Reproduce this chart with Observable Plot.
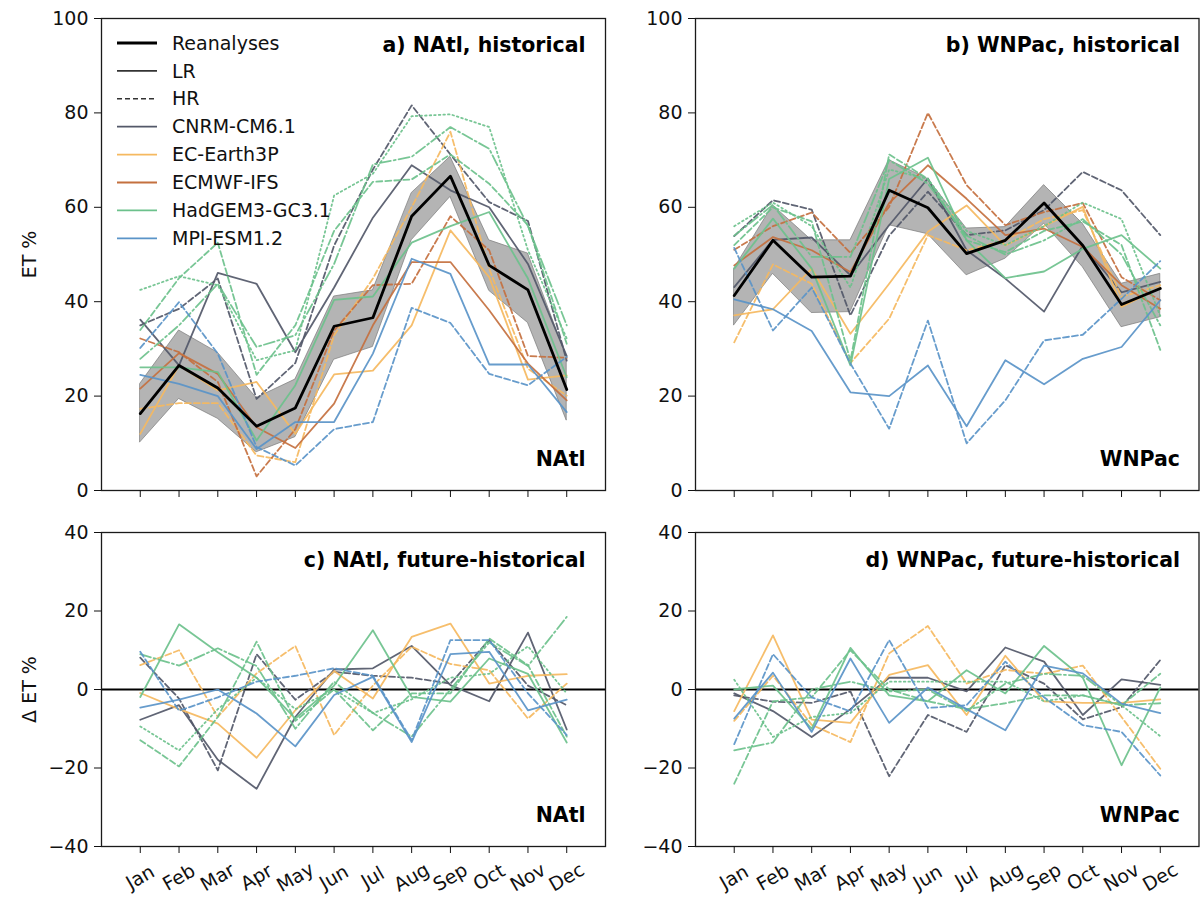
<!DOCTYPE html>
<html><head><meta charset="utf-8">
<script src="https://cdn.jsdelivr.net/npm/d3@7"></script>
<script src="https://cdn.jsdelivr.net/npm/@observablehq/plot@0.6"></script>
<style>
body{margin:0;background:#fff;}
#wrap{position:relative;width:1203px;height:901px;font-family:"DejaVu Sans",sans-serif;background:#fff;}
#wrap > svg{position:absolute;}
</style></head><body><div id="wrap"></div>
<script>
const months = ["Jan","Feb","Mar","Apr","May","Jun","Jul","Aug","Sep","Oct","Nov","Dec"];
const models = ["CNRM-CM6.1","EC-Earth3P","ECMWF-IFS","HadGEM3-GC3.1","MPI-ESM1.2"];
const modelColors = ["#535869","#f5b960","#c4703f","#6cc18c","#5a94c8"];

// a) NAtl, historical
const aREA    = [16.3, 26.5, 21.7, 13.6, 17.5, 34.8, 36.6, 58.1, 66.6, 47.7, 42.5, 21.4];
const aREA_lo = [10.2, 19.4, 15.2,  8.1, 11.3, 27.7, 30.4, 53.0, 62.2, 42.3, 35.5, 14.8];
const aREA_hi = [22.6, 33.9, 29.2, 19.6, 23.5, 41.1, 42.4, 63.0, 70.7, 53.0, 50.2, 28.3];
const aCNRM_LR  = [36.2, 26.5, 46.1, 43.8, 29.3, 43.0, 57.8, 68.9, 63.6, 60.0, 48.0, 28.5];
const aCNRM_HR  = [35.0, 38.5, 44.9, 19.4, 27.0, 51.9, 68.0, 81.6, 71.2, 61.1, 57.1, 27.5];
const aEC_LR    = [12.0, 26.5, 21.2, 23.0, 12.0, 24.6, 25.4, 35.0, 55.1, 45.2, 23.5, 24.4];
const aEC_HR    = [17.3, 18.5, 18.5,  7.4,  6.0, 32.9, 44.9, 60.0, 76.0, 47.0, 25.8, 20.1];
const aECMWF_LR = [21.6, 29.1, 24.7, 13.4,  9.0, 18.4, 35.0, 48.4, 48.4, 38.2, 26.9, 19.1];
const aECMWF_HR = [32.2, 29.3, 23.0,  3.0, 13.0, 33.9, 43.5, 43.8, 58.1, 50.9, 28.5, 28.1];
const aHAD_LL   = [26.1, 26.1, 25.1, 10.6, 22.3, 40.4, 41.1, 52.5, 56.0, 59.0, 44.9, 24.0];
const aHAD_MM   = [34.0, 45.0, 52.5, 24.5, 35.0, 55.0, 65.4, 65.9, 71.2, 65.0, 56.2, 31.1];
const aHAD_HM   = [27.9, 35.0, 43.8, 30.4, 32.9, 48.0, 69.1, 70.7, 77.0, 72.4, 56.0, 35.0];
const aHAD_HH   = [42.5, 45.4, 43.5, 27.6, 29.7, 62.5, 67.1, 79.3, 79.7, 77.0, 50.9, 32.2];
const aMPI_LR   = [24.5, 22.6, 20.0,  8.8, 14.5, 14.5, 29.0, 49.1, 45.9, 26.7, 26.7, 16.6];
const aMPI_HR   = [30.2, 39.9, 29.0,  9.2,  5.3, 13.0, 14.5, 38.7, 35.5, 24.7, 22.3, 28.3];

// b) WNPac, historical
const bREA    = [41.3, 53.0, 45.2, 45.4, 63.6, 59.9, 50.2, 53.0, 60.9, 51.9, 39.4, 42.8];
const bREA_lo = [35.0, 45.9, 37.6, 37.8, 56.2, 54.3, 45.6, 49.1, 56.5, 47.3, 34.6, 36.7];
const bREA_hi = [47.0, 60.4, 53.0, 53.0, 70.0, 66.0, 55.5, 55.8, 64.7, 56.5, 43.8, 45.9];
const bCNRM_LR  = [43.1, 53.1, 53.6, 45.6, 56.2, 66.1, 50.9, 44.9, 37.9, 51.9, 42.0, 44.2];
const bCNRM_HR  = [53.9, 61.5, 59.5, 37.1, 54.0, 63.3, 54.1, 55.1, 59.4, 67.5, 63.6, 54.1];
const bEC_LR    = [37.1, 38.4, 47.0, 33.2, 43.8, 54.8, 60.4, 51.9, 56.0, 60.1, 38.9, 43.0];
const bEC_HR    = [31.4, 47.9, 43.8, 27.0, 36.4, 54.1, 50.9, 53.0, 57.5, 59.4, 41.0, 43.5];
const bECMWF_LR = [47.7, 53.7, 50.9, 46.3, 60.9, 68.9, 61.8, 54.1, 55.5, 51.6, 43.5, 38.5];
const bECMWF_HR = [51.0, 56.0, 58.9, 50.3, 60.1, 80.0, 64.7, 56.2, 59.0, 60.9, 45.2, 40.3];
const bHAD_LL   = [47.0, 57.6, 47.0, 26.5, 66.0, 70.5, 53.0, 45.0, 46.4, 51.2, 54.1, 47.0];
const bHAD_MM   = [52.0, 60.0, 57.0, 27.5, 71.2, 66.0, 53.0, 50.5, 55.0, 57.0, 52.0, 29.8];
const bHAD_HM   = [54.0, 60.5, 49.5, 49.5, 70.0, 65.0, 54.0, 50.0, 53.0, 57.5, 50.0, 35.0];
const bHAD_HH   = [56.0, 61.0, 56.0, 43.0, 68.0, 66.0, 55.0, 52.0, 56.0, 61.0, 57.5, 37.0];
const bMPI_LR   = [40.5, 38.4, 33.8, 20.8, 20.0, 26.5, 13.6, 27.6, 22.5, 27.9, 30.4, 40.3];
const bMPI_HR   = [51.4, 33.9, 43.0, 26.9, 13.1, 36.0, 10.0, 19.1, 31.8, 33.0, 40.6, 48.6];

// c) NAtl, future-historical
const cCNRM_LR = [-7.7, -4.0, -17.9, -25.3, -7.0, 5.1, 5.4, 11.1, 1.1, -3.0, 14.5, -10.2];
const cCNRM_HR = [8.1, -2.3, -20.6, 9.0, -2.6, 4.5, 3.5, 3.0, 1.5, 12.6, 1.0, -4.0];
const cEC_LR   = [-0.9, -5.0, -8.7, -17.4, -5.3, 4.7, -2.3, 13.4, 16.8, 1.5, 3.5, 3.9];
const cEC_HR   = [6.2, 10.0, -7.0, 4.1, 11.1, -11.6, 1.0, 10.9, 6.5, 4.9, -7.4, 1.5];
const cHAD_LL  = [-1.9, 16.6, 9.5, 3.0, -7.4, 1.0, 15.1, -1.9, -3.1, 7.9, 4.0, -13.5];
const cHAD_MM  = [-12.9, -19.6, -7.0, 12.2, -8.0, 0.0, -10.4, -1.0, -1.0, 13.0, 6.2, -12.0];
const cHAD_HM  = [9.0, 6.1, 10.5, 6.0, -10.0, 2.0, -6.0, -12.0, 0.0, 12.0, 6.0, 18.5];
const cHAD_HH  = [-9.4, -15.5, -5.0, 3.0, -5.0, 0.0, -6.0, -2.5, 3.0, 4.0, 11.0, -1.0];
const cMPI_LR  = [-4.6, -2.6, 0.0, -6.1, -14.5, -1.4, 3.2, -13.4, 9.0, 9.6, -5.3, -2.6];
const cMPI_HR  = [9.6, -5.4, -2.0, 2.0, 3.5, 5.4, 3.5, -12.9, 12.6, 12.6, -1.0, -11.6];

// d) WNPac, future-historical
const dCNRM_LR = [-1.0, -5.5, -12.1, -5.0, 3.0, 3.0, -0.5, 10.7, 7.1, -6.5, 2.6, 1.2];
const dCNRM_HR = [-1.5, -3.1, -3.4, -0.5, -22.1, -6.5, -10.8, 6.2, 1.5, -7.6, -4.5, 7.5];
const dEC_LR   = [-5.5, 13.8, -7.7, -8.5, 3.7, 6.2, -6.5, 8.6, -3.0, -3.4, -3.4, -2.5];
const dEC_HR   = [-8.0, 3.5, -9.0, -13.4, 9.2, 16.2, 1.5, 5.0, 4.0, 6.1, -7.0, -20.2];
const dHAD_LL  = [0.0, 1.0, -10.0, 10.6, -1.5, -3.0, 4.9, -1.0, 11.1, 3.0, -19.3, 0.5];
const dHAD_MM  = [-24.0, -3.0, -2.0, 10.0, 0.0, -3.0, -5.0, -3.5, -1.5, -1.5, -4.0, 4.0];
const dHAD_HM  = [-15.5, -13.5, 0.0, 2.0, -0.5, 0.0, -5.5, 1.5, 4.0, 3.5, -4.0, -3.5];
const dHAD_HH  = [2.5, -12.1, -7.0, -6.0, 2.0, 2.0, 2.0, 2.0, -3.0, -1.5, -4.0, -11.9];
const dMPI_LR  = [-7.4, 4.3, -10.8, 7.9, -8.5, 0.5, -5.0, -10.4, 6.1, 4.1, -3.6, -6.0];
const dMPI_HR  = [-13.9, 9.0, -2.0, -5.6, 12.6, -4.7, -4.0, 7.1, -2.0, -9.1, -10.8, -21.9];

const dashes = {LR: null, HR: "6,3", LL: null, MM: "6,3", HM: "11,3,2,3", HH: "1.6,3"};
const color = m => modelColors[models.indexOf(m)];
const toRows = (vals, model, res) => vals.map((v, i) => ({m: i + 1, v, model, res}));

const seriesA = [
  ["CNRM-CM6.1","LR",aCNRM_LR],["CNRM-CM6.1","HR",aCNRM_HR],
  ["EC-Earth3P","LR",aEC_LR],["EC-Earth3P","HR",aEC_HR],
  ["ECMWF-IFS","LR",aECMWF_LR],["ECMWF-IFS","HR",aECMWF_HR],
  ["HadGEM3-GC3.1","LL",aHAD_LL],["HadGEM3-GC3.1","MM",aHAD_MM],["HadGEM3-GC3.1","HM",aHAD_HM],["HadGEM3-GC3.1","HH",aHAD_HH],
  ["MPI-ESM1.2","LR",aMPI_LR],["MPI-ESM1.2","HR",aMPI_HR]];
const seriesB = [
  ["CNRM-CM6.1","LR",bCNRM_LR],["CNRM-CM6.1","HR",bCNRM_HR],
  ["EC-Earth3P","LR",bEC_LR],["EC-Earth3P","HR",bEC_HR],
  ["ECMWF-IFS","LR",bECMWF_LR],["ECMWF-IFS","HR",bECMWF_HR],
  ["HadGEM3-GC3.1","LL",bHAD_LL],["HadGEM3-GC3.1","MM",bHAD_MM],["HadGEM3-GC3.1","HM",bHAD_HM],["HadGEM3-GC3.1","HH",bHAD_HH],
  ["MPI-ESM1.2","LR",bMPI_LR],["MPI-ESM1.2","HR",bMPI_HR]];
const seriesC = [
  ["CNRM-CM6.1","LR",cCNRM_LR],["CNRM-CM6.1","HR",cCNRM_HR],
  ["EC-Earth3P","LR",cEC_LR],["EC-Earth3P","HR",cEC_HR],
  ["HadGEM3-GC3.1","LL",cHAD_LL],["HadGEM3-GC3.1","MM",cHAD_MM],["HadGEM3-GC3.1","HM",cHAD_HM],["HadGEM3-GC3.1","HH",cHAD_HH],
  ["MPI-ESM1.2","LR",cMPI_LR],["MPI-ESM1.2","HR",cMPI_HR]];
const seriesD = [
  ["CNRM-CM6.1","LR",dCNRM_LR],["CNRM-CM6.1","HR",dCNRM_HR],
  ["EC-Earth3P","LR",dEC_LR],["EC-Earth3P","HR",dEC_HR],
  ["HadGEM3-GC3.1","LL",dHAD_LL],["HadGEM3-GC3.1","MM",dHAD_MM],["HadGEM3-GC3.1","HM",dHAD_HM],["HadGEM3-GC3.1","HH",dHAD_HH],
  ["MPI-ESM1.2","LR",dMPI_LR],["MPI-ESM1.2","HR",dMPI_HR]];

const fmt = d => d < 0 ? "\u2212" + (-d) : String(d);
const FONT = "DejaVu Sans, sans-serif";

function panel(o) {
  const marks = [];
  if (o.band) {
    const bandRows = o.band[0].map((lo, i) => ({m: i + 1, lo, hi: o.band[1][i]}));
    marks.push(Plot.areaY(bandRows, {x: "m", y1: "lo", y2: "hi", fill: "#8c8c8c", fillOpacity: 0.65, stroke: "#7a7a7a", strokeOpacity: 0.7, strokeWidth: 1}));
  }
  if (o.zero) marks.push(Plot.ruleY([0], {stroke: "#000", strokeWidth: 1.8}));
  for (const [model, res, vals] of o.series) {
    marks.push(Plot.line(toRows(vals, model, res), {x: "m", y: "v", stroke: color(model), strokeWidth: 1.8, strokeOpacity: 0.92, strokeDasharray: dashes[res]}));
  }
  if (o.rea) marks.push(Plot.line(toRows(o.rea, "Reanalyses", ""), {x: "m", y: "v", stroke: "#000", strokeWidth: 2.8}));
  marks.push(Plot.frame({stroke: "#1a1a1a", strokeWidth: 1.3}));
  marks.push(Plot.axisY({ticks: o.yTicks, tickSize: 7, tickPadding: 6, tickFormat: fmt, label: null, fontSize: 19}));
  marks.push(Plot.axisX({ticks: d3.range(1, 13), tickSize: 7, tickFormat: () => "", label: null}));
  if (o.showMonths) {
    marks.push(Plot.text(months, {x: (d, i) => i + 1, frameAnchor: "bottom", dy: 31, rotate: -30, textAnchor: "middle", lineAnchor: "middle", fontSize: 19, fill: "#111"}));
  }
  marks.push(Plot.text([o.title], {frameAnchor: "top-right", dx: o.tdx, dy: o.tdy, textAnchor: "end", lineAnchor: "middle", fontWeight: "bold", fontSize: 20.5, fill: "#000"}));
  marks.push(Plot.text([o.region], {frameAnchor: "bottom-right", dx: o.tdx, dy: o.rdy, textAnchor: "end", lineAnchor: "middle", fontWeight: "bold", fontSize: 20.5, fill: "#000"}));
  if (o.ylabel) marks.push(Plot.text([o.ylabel], {frameAnchor: "left", dx: -72, rotate: -90, textAnchor: "middle", lineAnchor: "middle", fontSize: 19, fill: "#111"}));
  const svg = Plot.plot({
    width: o.width, height: o.height,
    marginLeft: o.ml, marginRight: o.mr, marginTop: o.mt, marginBottom: o.mb,
    x: {type: "linear", domain: [0, 13], axis: null},
    y: {type: "linear", domain: o.yDomain, axis: null},
    style: {fontFamily: FONT, fontSize: "19px", color: "#111", background: "transparent", overflow: "visible"},
    marks
  });
  svg.style.left = o.left + "px";
  svg.style.top = o.top + "px";
  return svg;
}

const wrap = document.getElementById("wrap");
const topTicks = [0, 20, 40, 60, 80, 100];
const botTicks = [-40, -20, 0, 20, 40];

wrap.appendChild(panel({left: 0, top: 0, width: 640, height: 500, ml: 101, mr: 35, mt: 18, mb: 10,
  yDomain: [0, 100], yTicks: topTicks, series: seriesA, band: [aREA_lo, aREA_hi], rea: aREA,
  title: "a) NAtl, historical", region: "NAtl", tdx: -20, tdy: 27, rdy: -31, ylabel: "ET %"}));
wrap.appendChild(panel({left: 640, top: 0, width: 563, height: 500, ml: 55, mr: 4.5, mt: 18, mb: 10,
  yDomain: [0, 100], yTicks: topTicks, series: seriesB, band: [bREA_lo, bREA_hi], rea: bREA,
  title: "b) WNPac, historical", region: "WNPac", tdx: -19, tdy: 27, rdy: -31}));
wrap.appendChild(panel({left: 0, top: 500, width: 640, height: 401, ml: 101, mr: 35, mt: 32, mb: 55,
  yDomain: [-40, 40], yTicks: botTicks, series: seriesC, zero: true, showMonths: true,
  title: "c) NAtl, future-historical", region: "NAtl", tdx: -20, tdy: 28, rdy: -31, ylabel: "\u0394 ET %"}));
wrap.appendChild(panel({left: 640, top: 500, width: 563, height: 401, ml: 55, mr: 4.5, mt: 32, mb: 55,
  yDomain: [-40, 40], yTicks: botTicks, series: seriesD, zero: true, showMonths: true,
  title: "d) WNPac, future-historical", region: "WNPac", tdx: -19, tdy: 28, rdy: -31}));

// Legend (inside panel a)
const legendItems = [
  {label: "Reanalyses", stroke: "#000", w: 2.8, dash: null},
  {label: "LR", stroke: "#333", w: 1.6, dash: null},
  {label: "HR", stroke: "#333", w: 1.6, dash: "5,3"},
  ...models.map((m, i) => ({label: m, stroke: modelColors[i], w: 1.8, dash: null}))
];
const leg = d3.select(wrap).append("svg")
  .attr("width", 420).attr("height", 260)
  .style("left", "0px").style("top", "0px").style("overflow", "visible")
  .attr("font-family", FONT).attr("font-size", 19);
const rowsG = leg.selectAll("g").data(legendItems).join("g")
  .attr("transform", (d, i) => `translate(0,${43 + i * 27.9})`);
rowsG.append("line").attr("x1", 117).attr("x2", 157).attr("y1", 0).attr("y2", 0)
  .attr("stroke", d => d.stroke).attr("stroke-width", d => d.w).attr("stroke-dasharray", d => d.dash);
rowsG.append("text").attr("x", 172).attr("y", 0).attr("dy", "0.35em").attr("fill", "#111").text(d => d.label);
</script></body></html>
